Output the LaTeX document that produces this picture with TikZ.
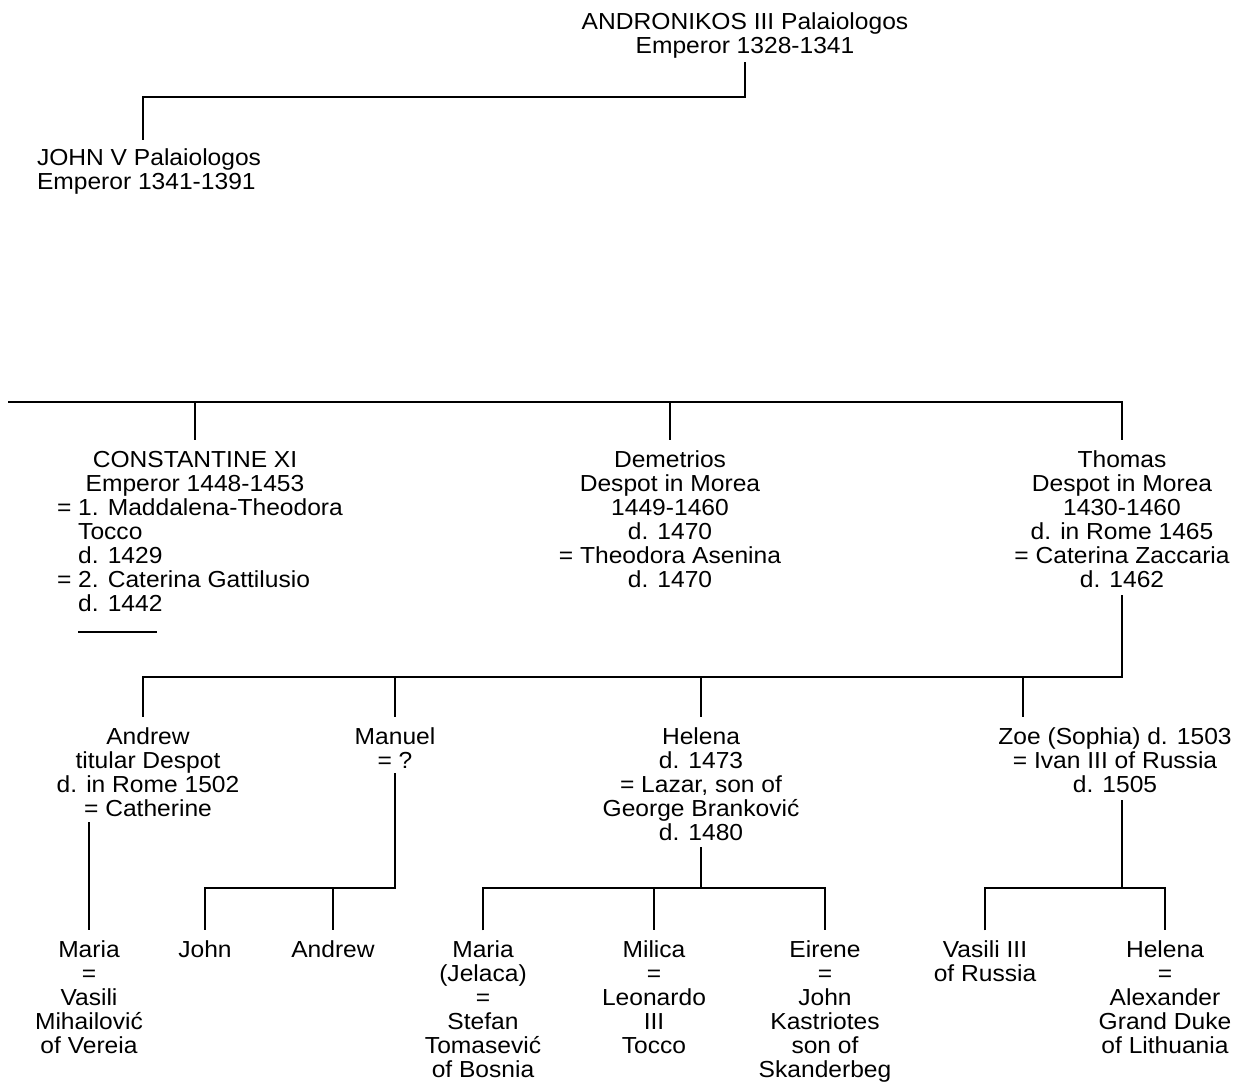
\documentclass[tikz,border=0pt]{standalone}
\usepackage{fontspec}
\setmainfont{Liberation Sans}[FakeStretch=1.06]

\begin{document}
\begin{tikzpicture}[x=0.02cm, y=-0.02cm,
      every node/.style = {align=center, inner sep=0pt, outer sep=0pt,
        anchor=north, font=\fontsize{13.2}{13.6}\selectfont},
      link/.style = {line width=0.9pt, shorten >=6pt}]
  \useasboundingbox (0,0) rectangle (1246,1086);
  \node (andr) at (745,13) {ANDRONIKOS III Palaiologos\\Emperor 1328-1341};
  \node[anchor=north west, align=left] (john) at (37,149) {JOHN V Palaiologos\\Emperor 1341-1391};
  \node (const) at (195,451) {CONSTANTINE XI\\Emperor 1448-1453};
  \node[anchor=north west, align=left] (constw) at (57,499) {= 1. Maddalena-Theodora\\\phantom{=} Tocco\\\phantom{=} d. 1429\\= 2. Caterina Gattilusio\\\phantom{=} d. 1442};
  \node (dem) at (670,451) {Demetrios\\Despot in Morea\\1449-1460\\d. 1470\\= Theodora Asenina\\d. 1470};
  \node (thomas) at (1122,451) {Thomas\\Despot in Morea\\1430-1460\\d. in Rome 1465\\= Caterina Zaccaria\\d. 1462};
  \node (andrew) at (148,728) {Andrew\\titular Despot\\d. in Rome 1502\\= Catherine};
  \node (manuel) at (395,728) {Manuel\\= ?};
  \node (helena) at (701,728) {Helena\\d. 1473\\= Lazar, son of\\George Branković\\d. 1480};
  \node (zoe) at (1115,728) {Zoe (Sophia) d. 1503\\= Ivan III of Russia\\d. 1505};
  \node (maria) at (89,941) {Maria\\=\\Vasili\\Mihailović\\of Vereia};
  \node (john2) at (205,941) {John};
  \node (andrew2) at (333,941) {Andrew};
  \node (mariaj) at (483,941) {Maria\\(Jelaca)\\=\\Stefan\\Tomasević\\of Bosnia};
  \node (milica) at (654,941) {Milica\\=\\Leonardo\\III\\Tocco};
  \node (eirene) at (825,941) {Eirene\\=\\John\\Kastriotes\\son of\\Skanderbeg};
  \node (vasili) at (985,941) {Vasili III\\of Russia};
  \node (helena2) at (1165,941) {Helena\\=\\Alexander\\Grand Duke\\of Lithuania};

  \coordinate (b0) at (143,97);
  \draw[link, shorten <=2pt, shorten >=5pt] (andr.south) |- (b0) -- (b0 |- john.north);
  \coordinate (b1) at (8,402);
  \draw[link] (b1) -| (thomas.north);
  \draw[link] (const.north |- b1) -- (const.north);
  \draw[link] (dem.north |- b1) -- (dem.north);
  \draw[link, shorten >=0pt] (78,632) -- (157,632);
  \coordinate (b2) at (143,677);
  \draw[link, shorten <=4.5pt] (thomas.south) |- (b2) -- (b2 |- andrew.north);
  \draw[link] (manuel.north |- b2) -- (manuel.north);
  \draw[link] (helena.north |- b2) -- (helena.north);
  \coordinate (z) at (1023,677);
  \draw[link] (z) -- (z |- zoe.north);
  \draw[link, shorten <=3pt] (andrew.south -| maria.north) -- (maria.north);
  \coordinate (b3) at (395,888);
  \draw[link, shorten <=2.5pt] (manuel.south) |- (b3 -| john2.north) -- (john2.north);
  \draw[link] (andrew2.north |- b3) -- (andrew2.north);
  \coordinate (b4) at (701,888);
  \draw[link, shorten >=3.4pt] (b4) -- (helena.south);
  \draw[link, shorten <=6pt] (mariaj.north) |- (b4) -| (eirene.north);
  \draw[link] (milica.north |- b4) -- (milica.north);
  \coordinate (b5) at (1122,888);
  \draw[link, shorten >=4pt] (b5) -- (b5 |- zoe.south);
  \draw[link, shorten <=6pt] (vasili.north) |- (b5) -| (helena2.north);
\end{tikzpicture}
\end{document}
